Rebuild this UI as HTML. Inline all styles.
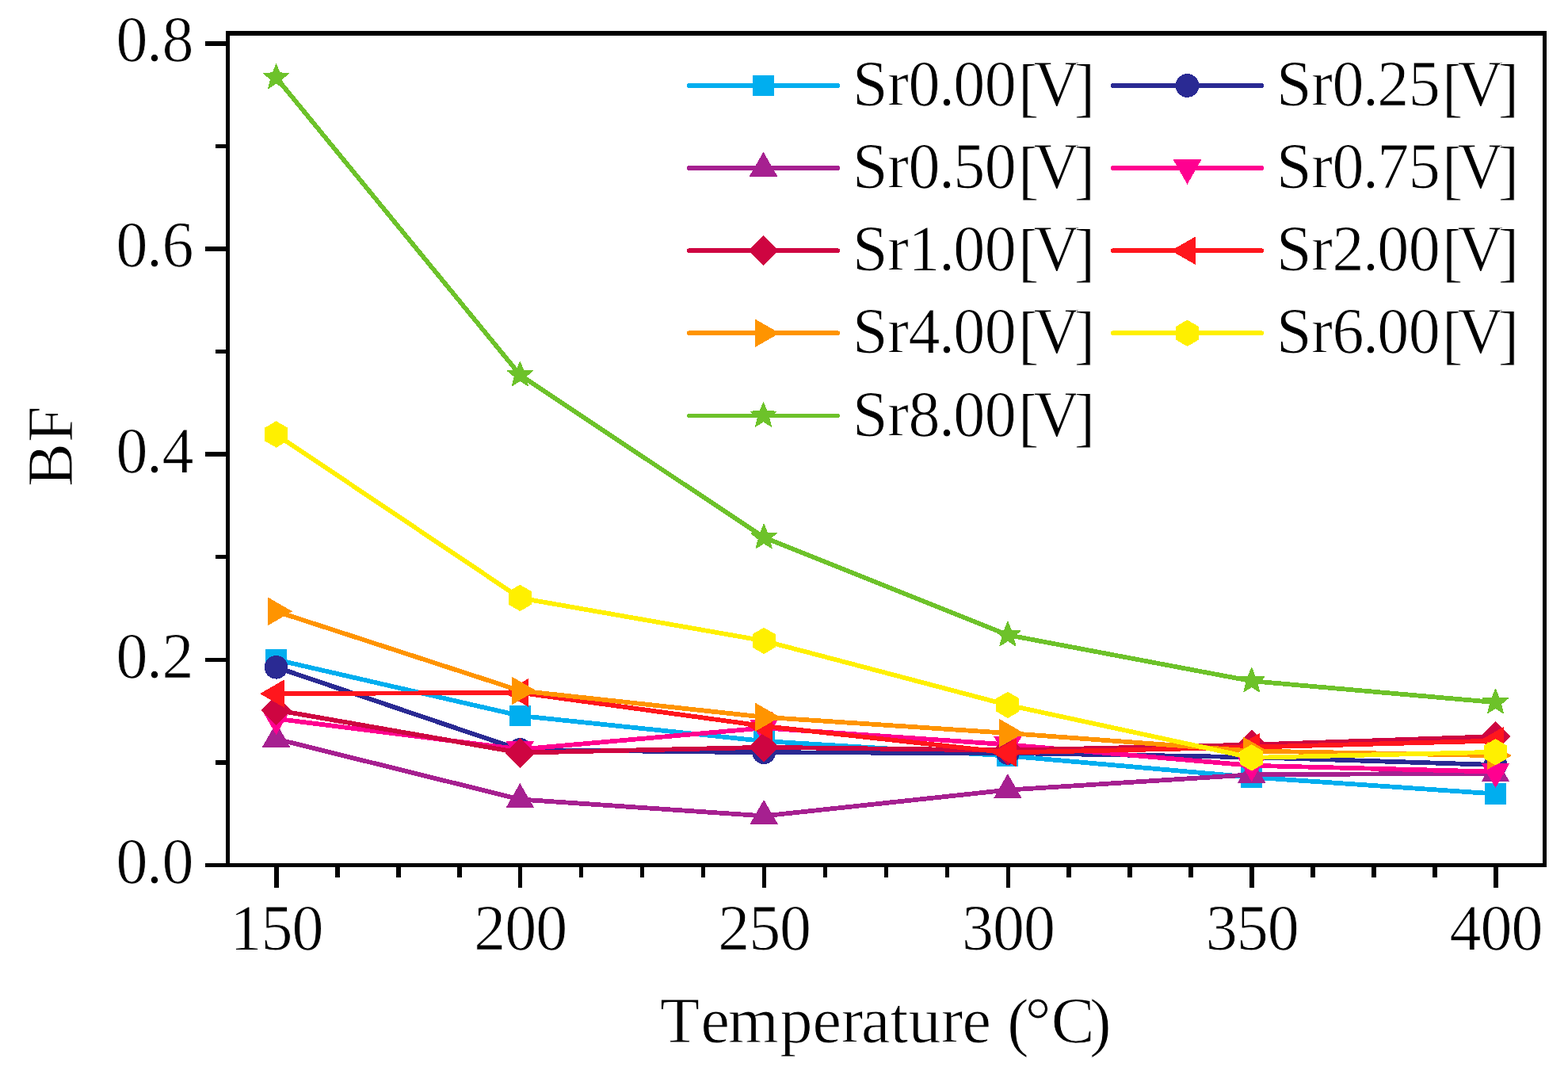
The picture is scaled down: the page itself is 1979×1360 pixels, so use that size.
<!DOCTYPE html>
<html lang="en">
<head>
<meta charset="utf-8">
<title>BF vs Temperature</title>
<style>
html,body{margin:0;padding:0;background:#fff;}
body{width:1979px;height:1360px;overflow:hidden;}
svg{display:block;}
text{font-family:"Liberation Serif",serif;font-size:82px;fill:#000;white-space:pre;stroke:#fff;stroke-width:0.9px;}
</style>
</head>
<body>
<svg width="1979" height="1360" viewBox="0 0 1979 1360" shape-rendering="crispEdges">
<rect x="0" y="0" width="1979" height="1360" fill="#fff"/>

<g id="series" stroke-linejoin="round" stroke-linecap="round">
<g><polyline points="348.56,832.25 656.34,903 964.12,935 1271.9,953.55 1579.68,980.55 1887.46,1001.5" fill="none" stroke="#00AEEF" stroke-width="5.8"/>
<rect x="335.06" y="819" width="27" height="26.5" fill="#00AEEF"/>
<rect x="642.84" y="889.75" width="27" height="26.5" fill="#00AEEF"/>
<rect x="950.62" y="921.75" width="27" height="26.5" fill="#00AEEF"/>
<rect x="1258.4" y="940.3" width="27" height="26.5" fill="#00AEEF"/>
<rect x="1566.18" y="967.3" width="27" height="26.5" fill="#00AEEF"/>
<rect x="1873.96" y="988.25" width="27" height="26.5" fill="#00AEEF"/>
</g>
<g><polyline points="348.56,841.8 656.34,945.9 964.12,949.3 1271.9,950 1579.68,955.3 1887.46,965" fill="none" stroke="#2A2A93" stroke-width="5.8"/>
<circle cx="348.56" cy="841.8" r="14.8" fill="#2A2A93"/>
<circle cx="656.34" cy="945.9" r="14.8" fill="#2A2A93"/>
<circle cx="964.12" cy="949.3" r="14.8" fill="#2A2A93"/>
<circle cx="1271.9" cy="950" r="14.8" fill="#2A2A93"/>
<circle cx="1579.68" cy="955.3" r="14.8" fill="#2A2A93"/>
<circle cx="1887.46" cy="965" r="14.8" fill="#2A2A93"/>
</g>
<g><polyline points="348.56,932.3 656.34,1008.5 964.12,1029.4 1271.9,996.6 1579.68,977.3 1887.46,975.6" fill="none" stroke="#A62090" stroke-width="5.8"/>
<polygon points="348.56,912.8 331.46,942.6 365.66,942.6" fill="#A62090" stroke="#A62090" stroke-width="1" stroke-linejoin="miter"/>
<polygon points="656.34,989 639.24,1018.8 673.44,1018.8" fill="#A62090" stroke="#A62090" stroke-width="1" stroke-linejoin="miter"/>
<polygon points="964.12,1009.9 947.02,1039.7 981.22,1039.7" fill="#A62090" stroke="#A62090" stroke-width="1" stroke-linejoin="miter"/>
<polygon points="1271.9,977.1 1254.8,1006.9 1289,1006.9" fill="#A62090" stroke="#A62090" stroke-width="1" stroke-linejoin="miter"/>
<polygon points="1579.68,957.8 1562.58,987.6 1596.78,987.6" fill="#A62090" stroke="#A62090" stroke-width="1" stroke-linejoin="miter"/>
<polygon points="1887.46,956.1 1870.36,985.9 1904.56,985.9" fill="#A62090" stroke="#A62090" stroke-width="1" stroke-linejoin="miter"/>
</g>
<g><polyline points="348.56,906.7 656.34,945.4 964.12,918.4 1271.9,939.4 1579.68,965.8 1887.46,973.6" fill="none" stroke="#FF0090" stroke-width="5.8"/>
<polygon points="348.56,926.2 331.46,896.4 365.66,896.4" fill="#FF0090" stroke="#FF0090" stroke-width="1" stroke-linejoin="miter"/>
<polygon points="656.34,964.9 639.24,935.1 673.44,935.1" fill="#FF0090" stroke="#FF0090" stroke-width="1" stroke-linejoin="miter"/>
<polygon points="964.12,937.9 947.02,908.1 981.22,908.1" fill="#FF0090" stroke="#FF0090" stroke-width="1" stroke-linejoin="miter"/>
<polygon points="1271.9,958.9 1254.8,929.1 1289,929.1" fill="#FF0090" stroke="#FF0090" stroke-width="1" stroke-linejoin="miter"/>
<polygon points="1579.68,985.3 1562.58,955.5 1596.78,955.5" fill="#FF0090" stroke="#FF0090" stroke-width="1" stroke-linejoin="miter"/>
<polygon points="1887.46,993.1 1870.36,963.3 1904.56,963.3" fill="#FF0090" stroke="#FF0090" stroke-width="1" stroke-linejoin="miter"/>
</g>
<g><polyline points="348.56,895.8 656.34,949.7 964.12,942.8 1271.9,946.6 1579.68,939.6 1887.46,929.1" fill="none" stroke="#CE0541" stroke-width="5.8"/>
<polygon points="348.56,877.5 366.86,895.8 348.56,914.1 330.26,895.8" fill="#CE0541" stroke="#CE0541" stroke-width="1" stroke-linejoin="miter"/>
<polygon points="656.34,931.4 674.64,949.7 656.34,968 638.04,949.7" fill="#CE0541" stroke="#CE0541" stroke-width="1" stroke-linejoin="miter"/>
<polygon points="964.12,924.5 982.42,942.8 964.12,961.1 945.82,942.8" fill="#CE0541" stroke="#CE0541" stroke-width="1" stroke-linejoin="miter"/>
<polygon points="1271.9,928.3 1290.2,946.6 1271.9,964.9 1253.6,946.6" fill="#CE0541" stroke="#CE0541" stroke-width="1" stroke-linejoin="miter"/>
<polygon points="1579.68,921.3 1597.98,939.6 1579.68,957.9 1561.38,939.6" fill="#CE0541" stroke="#CE0541" stroke-width="1" stroke-linejoin="miter"/>
<polygon points="1887.46,910.8 1905.76,929.1 1887.46,947.4 1869.16,929.1" fill="#CE0541" stroke="#CE0541" stroke-width="1" stroke-linejoin="miter"/>
</g>
<g><polyline points="348.56,875.1 656.34,873.9 964.12,916 1271.9,949.5 1579.68,942.6 1887.46,934.6" fill="none" stroke="#FF161D" stroke-width="5.8"/>
<polygon points="329.06,875.1 358.86,858 358.86,892.2" fill="#FF161D" stroke="#FF161D" stroke-width="1" stroke-linejoin="miter"/>
<polygon points="636.84,873.9 666.64,856.8 666.64,891" fill="#FF161D" stroke="#FF161D" stroke-width="1" stroke-linejoin="miter"/>
<polygon points="944.62,916 974.42,898.9 974.42,933.1" fill="#FF161D" stroke="#FF161D" stroke-width="1" stroke-linejoin="miter"/>
<polygon points="1252.4,949.5 1282.2,932.4 1282.2,966.6" fill="#FF161D" stroke="#FF161D" stroke-width="1" stroke-linejoin="miter"/>
<polygon points="1560.18,942.6 1589.98,925.5 1589.98,959.7" fill="#FF161D" stroke="#FF161D" stroke-width="1" stroke-linejoin="miter"/>
<polygon points="1867.96,934.6 1897.76,917.5 1897.76,951.7" fill="#FF161D" stroke="#FF161D" stroke-width="1" stroke-linejoin="miter"/>
</g>
<g><polyline points="348.56,771.3 656.34,871.4 964.12,904.7 1271.9,924.9 1579.68,947.5 1887.46,953.2" fill="none" stroke="#FF9400" stroke-width="5.8"/>
<polygon points="368.06,771.3 338.26,754.2 338.26,788.4" fill="#FF9400" stroke="#FF9400" stroke-width="1" stroke-linejoin="miter"/>
<polygon points="675.84,871.4 646.04,854.3 646.04,888.5" fill="#FF9400" stroke="#FF9400" stroke-width="1" stroke-linejoin="miter"/>
<polygon points="983.62,904.7 953.82,887.6 953.82,921.8" fill="#FF9400" stroke="#FF9400" stroke-width="1" stroke-linejoin="miter"/>
<polygon points="1291.4,924.9 1261.6,907.8 1261.6,942" fill="#FF9400" stroke="#FF9400" stroke-width="1" stroke-linejoin="miter"/>
<polygon points="1599.18,947.5 1569.38,930.4 1569.38,964.6" fill="#FF9400" stroke="#FF9400" stroke-width="1" stroke-linejoin="miter"/>
<polygon points="1906.96,953.2 1877.16,936.1 1877.16,970.3" fill="#FF9400" stroke="#FF9400" stroke-width="1" stroke-linejoin="miter"/>
</g>
<g><polyline points="348.56,548 656.34,754.4 964.12,808.4 1271.9,889.4 1579.68,955.9 1887.46,948.8" fill="none" stroke="#FFF000" stroke-width="5.8"/>
<polygon points="348.56,531.9 362.5,539.95 362.5,556.05 348.56,564.1 334.61,556.05 334.61,539.95" fill="#FFF000" stroke="#FFF000" stroke-width="1" stroke-linejoin="miter"/>
<polygon points="656.34,738.3 670.28,746.35 670.28,762.45 656.34,770.5 642.39,762.45 642.39,746.35" fill="#FFF000" stroke="#FFF000" stroke-width="1" stroke-linejoin="miter"/>
<polygon points="964.12,792.3 978.06,800.35 978.06,816.45 964.12,824.5 950.17,816.45 950.17,800.35" fill="#FFF000" stroke="#FFF000" stroke-width="1" stroke-linejoin="miter"/>
<polygon points="1271.9,873.3 1285.84,881.35 1285.84,897.45 1271.9,905.5 1257.95,897.45 1257.95,881.35" fill="#FFF000" stroke="#FFF000" stroke-width="1" stroke-linejoin="miter"/>
<polygon points="1579.68,939.8 1593.62,947.85 1593.62,963.95 1579.68,972 1565.73,963.95 1565.73,947.85" fill="#FFF000" stroke="#FFF000" stroke-width="1" stroke-linejoin="miter"/>
<polygon points="1887.46,932.7 1901.4,940.75 1901.4,956.85 1887.46,964.9 1873.51,956.85 1873.51,940.75" fill="#FFF000" stroke="#FFF000" stroke-width="1" stroke-linejoin="miter"/>
</g>
<g><polyline points="348.56,97.8 656.34,473 964.12,678 1271.9,801.1 1579.68,859.2 1887.46,886.1" fill="none" stroke="#6DC22A" stroke-width="5.8"/>
<polygon points="348.56,80.8 352.91,91.81 364.72,92.55 355.59,100.09 358.55,111.55 348.56,105.2 338.56,111.55 341.52,100.09 332.39,92.55 344.21,91.81" fill="#6DC22A" stroke="#6DC22A" stroke-width="1" stroke-linejoin="round"/>
<polygon points="656.34,456 660.69,467.01 672.5,467.75 663.37,475.29 666.33,486.75 656.34,480.4 646.34,486.75 649.3,475.29 640.17,467.75 651.99,467.01" fill="#6DC22A" stroke="#6DC22A" stroke-width="1" stroke-linejoin="round"/>
<polygon points="964.12,661 968.47,672.01 980.28,672.75 971.15,680.29 974.11,691.75 964.12,685.4 954.12,691.75 957.08,680.29 947.95,672.75 959.77,672.01" fill="#6DC22A" stroke="#6DC22A" stroke-width="1" stroke-linejoin="round"/>
<polygon points="1271.9,784.1 1276.25,795.11 1288.06,795.85 1278.93,803.39 1281.89,814.85 1271.9,808.5 1261.9,814.85 1264.86,803.39 1255.73,795.85 1267.55,795.11" fill="#6DC22A" stroke="#6DC22A" stroke-width="1" stroke-linejoin="round"/>
<polygon points="1579.68,842.2 1584.03,853.21 1595.84,853.95 1586.71,861.49 1589.67,872.95 1579.68,866.6 1569.68,872.95 1572.64,861.49 1563.51,853.95 1575.33,853.21" fill="#6DC22A" stroke="#6DC22A" stroke-width="1" stroke-linejoin="round"/>
<polygon points="1887.46,869.1 1891.81,880.11 1903.62,880.85 1894.49,888.39 1897.45,899.85 1887.46,893.5 1877.46,899.85 1880.42,888.39 1871.29,880.85 1883.11,880.11" fill="#6DC22A" stroke="#6DC22A" stroke-width="1" stroke-linejoin="round"/>
</g>
</g>
<g id="axes" stroke="#000" fill="none" stroke-width="5.5" stroke-linecap="butt">
<rect x="287.5" y="42.0" width="1662" height="1049.5" stroke-linejoin="miter"/>
<line x1="259" y1="1091.5" x2="287.5" y2="1091.5"/>
<line x1="272" y1="961.91" x2="287.5" y2="961.91"/>
<line x1="259" y1="832.33" x2="287.5" y2="832.33"/>
<line x1="272" y1="702.74" x2="287.5" y2="702.74"/>
<line x1="259" y1="573.16" x2="287.5" y2="573.16"/>
<line x1="272" y1="443.58" x2="287.5" y2="443.58"/>
<line x1="259" y1="313.99" x2="287.5" y2="313.99"/>
<line x1="272" y1="184.4" x2="287.5" y2="184.4"/>
<line x1="259" y1="54.82" x2="287.5" y2="54.82"/>
<line x1="348.96" y1="1091.5" x2="348.96" y2="1120"/>
<line x1="425.9" y1="1091.5" x2="425.9" y2="1107"/>
<line x1="502.85" y1="1091.5" x2="502.85" y2="1107"/>
<line x1="579.79" y1="1091.5" x2="579.79" y2="1107"/>
<line x1="656.74" y1="1091.5" x2="656.74" y2="1120"/>
<line x1="733.68" y1="1091.5" x2="733.68" y2="1107"/>
<line x1="810.63" y1="1091.5" x2="810.63" y2="1107"/>
<line x1="887.57" y1="1091.5" x2="887.57" y2="1107"/>
<line x1="964.52" y1="1091.5" x2="964.52" y2="1120"/>
<line x1="1041.46" y1="1091.5" x2="1041.46" y2="1107"/>
<line x1="1118.41" y1="1091.5" x2="1118.41" y2="1107"/>
<line x1="1195.35" y1="1091.5" x2="1195.35" y2="1107"/>
<line x1="1272.3" y1="1091.5" x2="1272.3" y2="1120"/>
<line x1="1349.24" y1="1091.5" x2="1349.24" y2="1107"/>
<line x1="1426.19" y1="1091.5" x2="1426.19" y2="1107"/>
<line x1="1503.13" y1="1091.5" x2="1503.13" y2="1107"/>
<line x1="1580.08" y1="1091.5" x2="1580.08" y2="1120"/>
<line x1="1657.02" y1="1091.5" x2="1657.02" y2="1107"/>
<line x1="1733.97" y1="1091.5" x2="1733.97" y2="1107"/>
<line x1="1810.91" y1="1091.5" x2="1810.91" y2="1107"/>
<line x1="1887.86" y1="1091.5" x2="1887.86" y2="1120"/>
</g>
<g id="ylabels">
<text transform="translate(146.51,1113.9) scale(0.975,1)" x="0 39.48 59.49" y="0">0.0</text>
<text transform="translate(146.51,854.73) scale(0.975,1)" x="0 39.48 59.49" y="0">0.2</text>
<text transform="translate(146.51,595.56) scale(0.975,1)" x="0 39.48 59.49" y="0">0.4</text>
<text transform="translate(146.51,336.39) scale(0.975,1)" x="0 39.48 59.49" y="0">0.6</text>
<text transform="translate(146.51,77.22) scale(0.975,1)" x="0 39.48 59.49" y="0">0.8</text>
</g>
<g id="xlabels">
<text transform="translate(290.57,1198) scale(0.975,1)" x="0 40 80" y="0">150</text>
<text transform="translate(598.35,1198) scale(0.975,1)" x="0 40 80" y="0">200</text>
<text transform="translate(906.13,1198) scale(0.975,1)" x="0 40 80" y="0">250</text>
<text transform="translate(1213.91,1198) scale(0.975,1)" x="0 40 80" y="0">300</text>
<text transform="translate(1521.69,1198) scale(0.975,1)" x="0 40 80" y="0">350</text>
<text transform="translate(1829.47,1198) scale(0.975,1)" x="0 40 80" y="0">400</text>
</g>
<text transform="translate(832.9,1315)" x="0 51.73 85.99 151.55 192.73 228.99 254.23 290.55 313.56 354.99 381.53 419.1 438.27 460.95 493.84 542.43" y="0 0 0 0 0 0 0 0 0 0 0 0 2.2 0 0 2.2">Temperature (°C)</text>
<text transform="translate(91,613.0) rotate(-90)" x="-0.63 55" y="0">BF</text>
<g id="legend" stroke-linecap="round">
<line x1="869.9" y1="108" x2="1057.1" y2="108" stroke="#00AEEF" stroke-width="5.8"/>
<rect x="950" y="94.75" width="27" height="26.5" fill="#00AEEF"/>
<text transform="translate(1075.97,133.1) scale(0.975,1)" x="0 45.3 72.35 111.73 130.5 171.12 214.35 234.62 286.6" y="0 0 0 0 0 0 4.5 0 4.5">Sr0.00[V]</text>
<line x1="1404.9" y1="108" x2="1592.1" y2="108" stroke="#2A2A93" stroke-width="5.8"/>
<circle cx="1498.5" cy="108" r="14.8" fill="#2A2A93"/>
<text transform="translate(1610.97,133.1) scale(0.975,1)" x="0 45.3 72.35 111.73 130.5 171.12 214.35 234.62 286.6" y="0 0 0 0 0 0 4.5 0 4.5">Sr0.25[V]</text>
<line x1="869.9" y1="212.1" x2="1057.1" y2="212.1" stroke="#A62090" stroke-width="5.8"/>
<polygon points="963.5,192.6 946.4,222.4 980.6,222.4" fill="#A62090" stroke="#A62090" stroke-width="1" stroke-linejoin="miter"/>
<text transform="translate(1075.97,237.2) scale(0.975,1)" x="0 45.3 72.35 111.73 130.5 171.12 214.35 234.62 286.6" y="0 0 0 0 0 0 4.5 0 4.5">Sr0.50[V]</text>
<line x1="1404.9" y1="212.1" x2="1592.1" y2="212.1" stroke="#FF0090" stroke-width="5.8"/>
<polygon points="1498.5,231.6 1481.4,201.8 1515.6,201.8" fill="#FF0090" stroke="#FF0090" stroke-width="1" stroke-linejoin="miter"/>
<text transform="translate(1610.97,237.2) scale(0.975,1)" x="0 45.3 72.35 111.73 130.5 171.12 214.35 234.62 286.6" y="0 0 0 0 0 0 4.5 0 4.5">Sr0.75[V]</text>
<line x1="869.9" y1="316.2" x2="1057.1" y2="316.2" stroke="#CE0541" stroke-width="5.8"/>
<polygon points="963.5,297.9 981.8,316.2 963.5,334.5 945.2,316.2" fill="#CE0541" stroke="#CE0541" stroke-width="1" stroke-linejoin="miter"/>
<text transform="translate(1075.97,341.3) scale(0.975,1)" x="0 45.3 72.35 111.73 130.5 171.12 214.35 234.62 286.6" y="0 0 0 0 0 0 4.5 0 4.5">Sr1.00[V]</text>
<line x1="1404.9" y1="316.2" x2="1592.1" y2="316.2" stroke="#FF161D" stroke-width="5.8"/>
<polygon points="1479,316.2 1508.8,299.1 1508.8,333.3" fill="#FF161D" stroke="#FF161D" stroke-width="1" stroke-linejoin="miter"/>
<text transform="translate(1610.97,341.3) scale(0.975,1)" x="0 45.3 72.35 111.73 130.5 171.12 214.35 234.62 286.6" y="0 0 0 0 0 0 4.5 0 4.5">Sr2.00[V]</text>
<line x1="869.9" y1="420.3" x2="1057.1" y2="420.3" stroke="#FF9400" stroke-width="5.8"/>
<polygon points="983,420.3 953.2,403.2 953.2,437.4" fill="#FF9400" stroke="#FF9400" stroke-width="1" stroke-linejoin="miter"/>
<text transform="translate(1075.97,445.4) scale(0.975,1)" x="0 45.3 72.35 111.73 130.5 171.12 214.35 234.62 286.6" y="0 0 0 0 0 0 4.5 0 4.5">Sr4.00[V]</text>
<line x1="1404.9" y1="420.3" x2="1592.1" y2="420.3" stroke="#FFF000" stroke-width="5.8"/>
<polygon points="1498.5,404.2 1512.44,412.25 1512.44,428.35 1498.5,436.4 1484.56,428.35 1484.56,412.25" fill="#FFF000" stroke="#FFF000" stroke-width="1" stroke-linejoin="miter"/>
<text transform="translate(1610.97,445.4) scale(0.975,1)" x="0 45.3 72.35 111.73 130.5 171.12 214.35 234.62 286.6" y="0 0 0 0 0 0 4.5 0 4.5">Sr6.00[V]</text>
<line x1="869.9" y1="524.4" x2="1057.1" y2="524.4" stroke="#6DC22A" stroke-width="5.8"/>
<polygon points="963.5,507.4 967.85,518.41 979.67,519.15 970.54,526.69 973.49,538.15 963.5,531.8 953.51,538.15 956.46,526.69 947.33,519.15 959.15,518.41" fill="#6DC22A" stroke="#6DC22A" stroke-width="1" stroke-linejoin="round"/>
<text transform="translate(1075.97,549.5) scale(0.975,1)" x="0 45.3 72.35 111.73 130.5 171.12 214.35 234.62 286.6" y="0 0 0 0 0 0 4.5 0 4.5">Sr8.00[V]</text>
</g>
</svg>
</body>
</html>
